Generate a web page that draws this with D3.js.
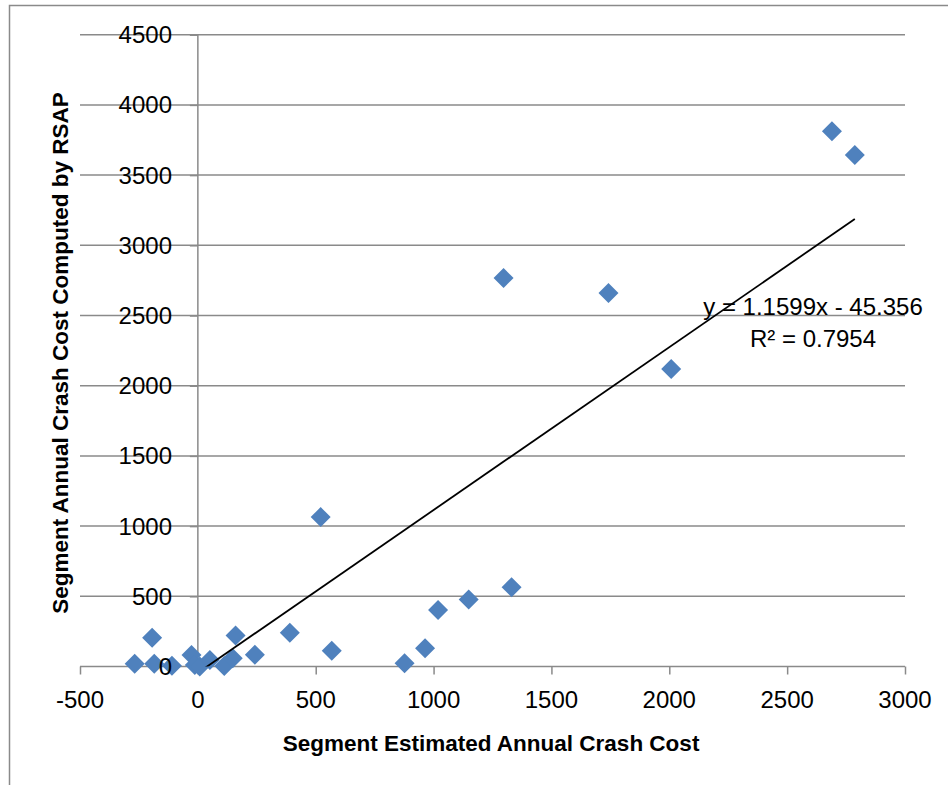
<!DOCTYPE html>
<html>
<head>
<meta charset="utf-8">
<script src="https://cdn.jsdelivr.net/npm/d3@7"></script>
<style>
  html, body { margin: 0; padding: 0; background: #fff; }
  svg { display: block; font-family: "Liberation Sans", Arial, sans-serif; }
</style>
</head>
<body>
<svg id="chart" width="948" height="785"></svg>
<script>
// estimated annual crash cost (x) vs. cost computed by RSAP (y)
const estimatedCost = [
  -268, -194, -185, -110, -27, -13, 8, 51, 112, 148, 160, 242, 390,
  521, 568, 877, 964, 1019, 1149, 1331, 1297, 1742, 2008, 2690, 2787,
];
const rsapCost = [
  20, 205, 20, 5, 82, 10, 0, 46, 3, 58, 220, 84, 240,
  1064, 112, 24, 130, 402, 478, 565, 2767, 2660, 2119, 3812, 3643,
];

const xTicks = [-500, 0, 500, 1000, 1500, 2000, 2500, 3000];
const yTicks = [0, 500, 1000, 1500, 2000, 2500, 3000, 3500, 4000, 4500];

// linear trendline reported by the spreadsheet
const trendSlope = 1.1599;
const trendIntercept = -45.356;
const trendLabel = ["y = 1.1599x - 45.356", "R² = 0.7954"];

const xTitle = "Segment Estimated Annual Crash Cost";
const yTitle = "Segment Annual Crash Cost Computed by RSAP";

function renderChart(svgElement) {
  const svg = d3.select(svgElement);
  const gridColor = "#8a8a8a";
  const pointColor = "#4f81bd";

  const left = 80, right = 905, top = 34.7, bottom = 666.5;

  const xScale = d3.scaleLinear().domain([-500, 3000]).range([left, right]);
  const yScale = d3.scaleLinear().domain([0, 4500]).range([bottom, top]);

  // chart frame (runs off the right / bottom edge)
  svg.append("rect")
    .attr("x", 9.5).attr("y", 5.5)
    .attr("width", 1200).attr("height", 1200)
    .attr("fill", "none")
    .attr("stroke", gridColor)
    .attr("stroke-width", 1.5);

  // horizontal gridlines
  svg.append("g")
    .selectAll("line")
    .data(yTicks)
    .join("line")
    .attr("x1", left).attr("x2", right)
    .attr("y1", (d) => yScale(d)).attr("y2", (d) => yScale(d))
    .attr("stroke", gridColor)
    .attr("stroke-width", 1.5);

  // axes cross at zero
  const x0 = xScale(0);
  svg.append("line")
    .attr("x1", x0).attr("x2", x0)
    .attr("y1", yScale(4500)).attr("y2", yScale(0))
    .attr("stroke", gridColor).attr("stroke-width", 1.5);

  const xAxis = d3.axisBottom(xScale).tickValues(xTicks).tickSize(8).tickFormat("");
  const xg = svg.append("g").attr("transform", `translate(0, ${yScale(0)})`).call(xAxis);
  xg.select(".domain").remove();
  xg.selectAll(".tick line").attr("stroke", gridColor).attr("stroke-width", 1.5);

  const yAxis = d3.axisLeft(yScale).tickValues(yTicks).tickSize(8).tickFormat("");
  const yg = svg.append("g").attr("transform", `translate(${x0}, 0)`).call(yAxis);
  yg.select(".domain").remove();
  yg.selectAll(".tick line").attr("stroke", gridColor).attr("stroke-width", 1.5);

  // diamonds
  const points = estimatedCost.map((x, i) => ({ x, y: rsapCost[i] }));
  const r = 10;
  svg.append("g")
    .selectAll("path")
    .data(points)
    .join("path")
    .attr("d", (d) => {
      const cx = xScale(d.x), cy = yScale(d.y);
      return `M${cx},${cy - r}L${cx + r},${cy}L${cx},${cy + r}L${cx - r},${cy}Z`;
    })
    .attr("fill", pointColor);

  // trendline, clipped to the plot area
  svg.append("clipPath").attr("id", "plot-clip")
    .append("rect")
    .attr("x", left).attr("y", top)
    .attr("width", right - left).attr("height", bottom - top);

  const xExtent = d3.extent(estimatedCost);
  const trend = xExtent.map((x) => ({ x, y: trendSlope * x + trendIntercept }));
  svg.append("path")
    .datum(trend)
    .attr("clip-path", "url(#plot-clip)")
    .attr("d", d3.line().x((d) => xScale(d.x)).y((d) => yScale(d.y)))
    .attr("fill", "none")
    .attr("stroke", "#000")
    .attr("stroke-width", 1.8);

  // tick labels
  svg.append("g")
    .selectAll("text")
    .data(yTicks)
    .join("text")
    .attr("x", 172)
    .attr("y", (d) => yScale(d))
    .attr("dy", "0.35em")
    .attr("text-anchor", "end")
    .attr("font-size", 24)
    .attr("fill", "#000")
    .text((d) => d);

  svg.append("g")
    .selectAll("text")
    .data(xTicks)
    .join("text")
    .attr("x", (d) => xScale(d))
    .attr("y", 708)
    .attr("text-anchor", "middle")
    .attr("font-size", 24)
    .attr("fill", "#000")
    .text((d) => d);

  // trendline equation
  svg.append("text")
    .attr("text-anchor", "middle")
    .attr("font-size", 24)
    .attr("fill", "#000")
    .selectAll("tspan")
    .data(trendLabel)
    .join("tspan")
    .attr("x", 813)
    .attr("y", (d, i) => 315 + i * 32)
    .text((d) => d);

  // axis titles
  svg.append("text")
    .attr("x", 491)
    .attr("y", 751)
    .attr("text-anchor", "middle")
    .attr("font-size", 22.5)
    .attr("font-weight", "bold")
    .text(xTitle);

  svg.append("text")
    .attr("transform", "translate(68, 353) rotate(-90)")
    .attr("text-anchor", "middle")
    .attr("font-size", 22.5)
    .attr("font-weight", "bold")
    .text(yTitle);
}

renderChart(document.getElementById("chart"));
</script>
</body>
</html>
